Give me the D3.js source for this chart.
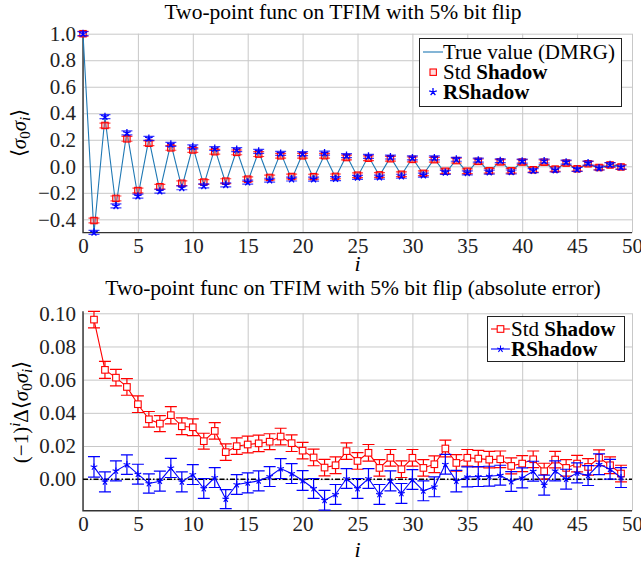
<!DOCTYPE html>
<html>
<head>
<meta charset="utf-8">
<script src="https://cdn.jsdelivr.net/npm/d3@7"></script>
<style>
  body { margin: 0; background: #fff; }
  svg { display: block; }
  svg text { font-family: "Liberation Serif", "Times New Roman", serif; }
</style>
</head>
<body>
<svg id="chart" width="641" height="561"></svg>
<script>
// sites i = 0..49
const sites = d3.range(0, 50)
const errSites = d3.range(1, 50)

// top panel: <sigma_0 sigma_i>
const trueVal = [1.000, -0.505, 0.372, -0.303, 0.261, -0.228, 0.207, -0.187, 0.173, -0.160,
  0.150, -0.142, 0.135, -0.128, 0.123, -0.118, 0.112, -0.107, 0.103, -0.099,
  0.095, -0.091, 0.087, -0.084, 0.081, -0.078, 0.075, -0.072, 0.069, -0.066,
  0.063, -0.060, 0.058, -0.055, 0.052, -0.050, 0.048, -0.046, 0.044, -0.042,
  0.040, -0.038, 0.036, -0.033, 0.031, -0.028, 0.026, -0.022, 0.018, -0.008]
const stdVal = [1.000, -0.409, 0.308, -0.242, 0.207, -0.183, 0.174, -0.154, 0.139, -0.128,
  0.123, -0.119, 0.110, -0.112, 0.105, -0.097, 0.092, -0.084, 0.079, -0.077,
  0.079, -0.078, 0.080, -0.076, 0.066, -0.067, 0.061, -0.065, 0.057, -0.060,
  0.052, -0.053, 0.050, -0.037, 0.043, -0.037, 0.037, -0.034, 0.033, -0.034,
  0.032, -0.026, 0.031, -0.021, 0.024, -0.019, 0.019, -0.009, 0.010, -0.005]
const rsVal = [1.000, -0.498, 0.374, -0.298, 0.252, -0.225, 0.210, -0.188, 0.166, -0.162,
  0.147, -0.148, 0.134, -0.140, 0.126, -0.120, 0.113, -0.105, 0.097, -0.096,
  0.096, -0.097, 0.100, -0.093, 0.081, -0.084, 0.075, -0.081, 0.070, -0.075,
  0.063, -0.067, 0.063, -0.046, 0.053, -0.049, 0.046, -0.044, 0.042, -0.043,
  0.039, -0.033, 0.040, -0.028, 0.031, -0.024, 0.024, -0.013, 0.012, -0.007]
const stdBarTop = [0.018, 0.018, 0.018, 0.018, 0.018, 0.018, 0.018, 0.018, 0.018, 0.018,
  0.018, 0.018, 0.018, 0.018, 0.018, 0.018, 0.018, 0.018, 0.018, 0.018,
  0.018, 0.018, 0.018, 0.018, 0.018, 0.018, 0.018, 0.018, 0.018, 0.018,
  0.018, 0.018, 0.018, 0.018, 0.018, 0.018, 0.018, 0.018, 0.018, 0.018,
  0.018, 0.018, 0.018, 0.018, 0.018, 0.018, 0.018, 0.018, 0.018, 0.018]
const rsBarTop = [0.015, 0.015, 0.015, 0.015, 0.015, 0.015, 0.015, 0.015, 0.015, 0.015,
  0.015, 0.015, 0.015, 0.015, 0.015, 0.015, 0.015, 0.015, 0.015, 0.015,
  0.015, 0.015, 0.015, 0.015, 0.015, 0.015, 0.015, 0.015, 0.015, 0.015,
  0.015, 0.015, 0.015, 0.015, 0.015, 0.015, 0.015, 0.015, 0.015, 0.015,
  0.015, 0.015, 0.015, 0.015, 0.015, 0.015, 0.015, 0.015, 0.015, 0.015]

// bottom panel: (-1)^i * error, i = 1..49
const stdAbsErr = [0.0962, 0.0659, 0.0612, 0.0556, 0.0452, 0.0361, 0.0335, 0.0386, 0.0319, 0.0313,
  0.0229, 0.0291, 0.0163, 0.0199, 0.0209, 0.0216, 0.0226, 0.0257, 0.0217, 0.0172,
  0.0131, 0.0070, 0.0084, 0.0169, 0.0110, 0.0159, 0.0068, 0.0129, 0.0060, 0.0129,
  0.0068, 0.0090, 0.0185, 0.0098, 0.0129, 0.0124, 0.0118, 0.0120, 0.0080, 0.0094,
  0.0120, 0.0048, 0.0118, 0.0068, 0.0094, 0.0074, 0.0129, 0.0084, 0.0034]
const rsAbsErr = [0.0074, -0.0016, 0.0050, 0.0088, 0.0030, -0.0026, -0.0012, 0.0068, -0.0016, 0.0028,
  -0.0056, 0.0010, -0.0120, -0.0032, -0.0022, -0.0010, 0.0016, 0.0064, 0.0034, -0.0008,
  -0.0056, -0.0127, -0.0092, 0.0004, -0.0056, 0.0004, -0.0092, -0.0010, -0.0086, -0.0002,
  -0.0070, -0.0046, 0.0090, -0.0012, 0.0014, 0.0016, 0.0018, 0.0024, -0.0014, 0.0008,
  0.0048, -0.0036, 0.0050, 0.0000, 0.0038, 0.0022, 0.0090, 0.0060, 0.0010]
const stdAbsBar = [0.0050, 0.0051, 0.0050, 0.0050, 0.0050, 0.0047, 0.0048, 0.0052, 0.0050, 0.0050,
  0.0048, 0.0050, 0.0050, 0.0050, 0.0050, 0.0050, 0.0048, 0.0050, 0.0050, 0.0050,
  0.0050, 0.0050, 0.0050, 0.0050, 0.0050, 0.0050, 0.0050, 0.0050, 0.0050, 0.0050,
  0.0050, 0.0050, 0.0050, 0.0050, 0.0050, 0.0050, 0.0050, 0.0050, 0.0048, 0.0048,
  0.0050, 0.0048, 0.0050, 0.0050, 0.0050, 0.0050, 0.0048, 0.0050, 0.0050]
const rsAbsBar = [0.0062, 0.0060, 0.0060, 0.0059, 0.0060, 0.0058, 0.0060, 0.0058, 0.0060, 0.0060,
  0.0060, 0.0060, 0.0057, 0.0060, 0.0060, 0.0060, 0.0060, 0.0060, 0.0060, 0.0060,
  0.0060, 0.0060, 0.0060, 0.0060, 0.0060, 0.0060, 0.0060, 0.0060, 0.0060, 0.0060,
  0.0060, 0.0060, 0.0060, 0.0065, 0.0060, 0.0060, 0.0060, 0.0060, 0.0060, 0.0060,
  0.0060, 0.0060, 0.0060, 0.0060, 0.0060, 0.0060, 0.0062, 0.0060, 0.0060]

const xTicks = [0, 5, 10, 15, 20, 25, 30, 35, 40, 45, 50]
const yTicksTop = [-0.4, -0.2, 0.0, 0.2, 0.4, 0.6, 0.8, 1.0]
const yTicksBot = [0.00, 0.02, 0.04, 0.06, 0.08, 0.10]

const RED = '#ff0000', BLUE = '#0000ff', LINE = '#1f78b4'
const FS = 21
const svg = d3.select('#chart')

const x = d3.scaleLinear().domain([0, 50]).range([83, 632])
const yTop = d3.scaleLinear().domain([-0.5, 1.0]).range([232.6, 33.7])
const yBot = d3.scaleLinear().domain([-0.019, 0.1]).range([510.7, 313.3])

// 5-armed asterisk, like pgfplots "star"
function starPath(r) {
  let p = ''
  for (let k = 0; k < 5; k++) {
    const a = (-90 + 72 * k) * Math.PI / 180
    p += `M0,0L${(r * Math.cos(a)).toFixed(2)},${(r * Math.sin(a)).toFixed(2)}`
  }
  return p
}

function frame(y, yTicks, fmt, labelY) {
  const g = svg.append('g')
  const [y0, y1] = y.range()
  const [x0, x1] = x.range()
  // grid
  g.append('g').attr('transform', `translate(0,${y0})`)
    .call(d3.axisBottom(x).tickValues(xTicks).tickSize(-(y0 - y1)).tickFormat(''))
    .call(s => s.select('.domain').remove())
    .selectAll('line').attr('stroke', '#c8c8c8').attr('stroke-width', 1)
  g.append('g').attr('transform', `translate(${x0},0)`)
    .call(d3.axisLeft(y).tickValues(yTicks).tickSize(-(x1 - x0)).tickFormat(''))
    .call(s => s.select('.domain').remove())
    .selectAll('line').attr('stroke', '#c8c8c8').attr('stroke-width', 1)
  // tick labels
  g.append('g').attr('transform', `translate(0,${y0})`)
    .call(d3.axisBottom(x).tickValues(xTicks).tickSize(0).tickPadding(5).tickFormat(d3.format('d')))
    .call(s => s.select('.domain').remove())
    .selectAll('text').attr('font-size', FS).attr('fill', '#222')
  g.append('g').attr('transform', `translate(${x0},0)`)
    .call(d3.axisLeft(y).tickValues(yTicks).tickSize(0).tickPadding(7).tickFormat(d3.format(fmt)))
    .call(s => s.select('.domain').remove())
    .selectAll('text').attr('font-size', FS).attr('fill', '#222')
  // axis lines (left + bottom)
  g.append('path').attr('d', `M${x0},${y1 - 2}V${y0}H${x1}`)
    .attr('fill', 'none').attr('stroke', '#333').attr('stroke-width', 1.4)
  // x label
  g.append('text').attr('x', (x0 + x1) / 2).attr('y', labelY).attr('text-anchor', 'middle')
    .attr('font-size', 22).attr('font-style', 'italic').text('i')
  return g
}

// ---------------- top panel ----------------
frame(yTop, yTicksTop, '.1f', 271)
svg.append('text').attr('x', 343).attr('y', 19).attr('text-anchor', 'middle')
  .attr('font-size', 21.5).text('Two-point func on TFIM with 5% bit flip')

const ylabTop = svg.append('text').attr('transform', 'translate(26,133) rotate(-90)')
  .attr('text-anchor', 'middle').attr('font-size', FS)
ylabTop.append('tspan').text('⟨')
ylabTop.append('tspan').attr('font-style', 'italic').text('σ')
ylabTop.append('tspan').attr('font-size', 15).attr('dy', 4).text('0')
ylabTop.append('tspan').attr('font-style', 'italic').attr('dy', -4).text('σ')
ylabTop.append('tspan').attr('font-size', 15).attr('font-style', 'italic').attr('dy', 4).text('i')
ylabTop.append('tspan').attr('dy', -4).text('⟩')

const topG = svg.append('g')
topG.append('path').datum(sites)
  .attr('d', d3.line().x(i => x(i)).y(i => yTop(trueVal[i])))
  .attr('fill', 'none').attr('stroke', LINE).attr('stroke-width', 1.1)

function errBars(g, xs, vals, bars, y, color, cap, opacity) {
  const eb = g.append('g').attr('stroke', color).attr('stroke-width', 1.2).attr('stroke-opacity', opacity)
  xs.forEach((i, k) => {
    const cx = x(i), lo = y(vals[k] - bars[k]), hi = y(vals[k] + bars[k])
    eb.append('path').attr('d', `M${cx},${lo}V${hi}M${cx - cap},${lo}H${cx + cap}M${cx - cap},${hi}H${cx + cap}`)
  })
}

errBars(topG, sites, stdVal, stdBarTop, yTop, RED, 5.5, 0.75)
topG.append('g').selectAll('rect').data(sites).join('rect')
  .attr('x', i => x(i) - 3.2).attr('y', i => yTop(stdVal[i]) - 3.2)
  .attr('width', 6.4).attr('height', 6.4)
  .attr('fill', 'rgba(255,120,120,0.25)').attr('stroke', RED).attr('stroke-width', 1.1)
errBars(topG, sites, rsVal, rsBarTop, yTop, BLUE, 5.5, 0.75)
topG.append('g').selectAll('path').data(sites).join('path')
  .attr('transform', i => `translate(${x(i)},${yTop(rsVal[i])})`)
  .attr('d', starPath(4)).attr('fill', 'none').attr('stroke', BLUE).attr('stroke-width', 1.3)

// legend top
const lt = svg.append('g')
lt.append('rect').attr('x', 419.5).attr('y', 38.5).attr('width', 202).attr('height', 68)
  .attr('fill', '#fff').attr('stroke', '#222').attr('stroke-width', 1)
lt.append('line').attr('x1', 423).attr('x2', 443).attr('y1', 52).attr('y2', 52)
  .attr('stroke', LINE).attr('stroke-width', 1.1)
lt.append('rect').attr('x', 430).attr('y', 69).attr('width', 6.4).attr('height', 6.4)
  .attr('fill', 'rgba(255,120,120,0.25)').attr('stroke', RED).attr('stroke-width', 1.1)
lt.append('path').attr('transform', 'translate(433,92)').attr('d', starPath(4))
  .attr('fill', 'none').attr('stroke', BLUE).attr('stroke-width', 1.3)
lt.append('text').attr('x', 443).attr('y', 59).attr('font-size', FS).text('True value (DMRG)')
const l2 = lt.append('text').attr('x', 443).attr('y', 79).attr('font-size', FS)
l2.append('tspan').text('Std ')
l2.append('tspan').attr('font-weight', 'bold').text('Shadow')
lt.append('text').attr('x', 443).attr('y', 99).attr('font-size', FS).attr('font-weight', 'bold').text('RShadow')

// ---------------- bottom panel ----------------
frame(yBot, yTicksBot, '.2f', 557)
svg.append('text').attr('x', 353).attr('y', 295).attr('text-anchor', 'middle')
  .attr('font-size', 21.5).text('Two-point func on TFIM with 5% bit flip (absolute error)')

const ylabBot = svg.append('text').attr('transform', 'translate(28,412) rotate(-90)')
  .attr('text-anchor', 'middle').attr('font-size', FS)
ylabBot.append('tspan').text('(−1)')
ylabBot.append('tspan').attr('font-size', 15).attr('font-style', 'italic').attr('dy', -8).text('i')
ylabBot.append('tspan').attr('dy', 8).text('Δ⟨')
ylabBot.append('tspan').attr('font-style', 'italic').text('σ')
ylabBot.append('tspan').attr('font-size', 15).attr('dy', 4).text('0')
ylabBot.append('tspan').attr('font-style', 'italic').attr('dy', -4).text('σ')
ylabBot.append('tspan').attr('font-size', 15).attr('font-style', 'italic').attr('dy', 4).text('i')
ylabBot.append('tspan').attr('dy', -4).text('⟩')

const botG = svg.append('g')
// zero reference line
botG.append('line').attr('x1', x(0)).attr('x2', x(50)).attr('y1', yBot(0)).attr('y2', yBot(0))
  .attr('stroke', '#000').attr('stroke-width', 1.6).attr('stroke-dasharray', '5,2,1.5,2')

errBars(botG, errSites, stdAbsErr, stdAbsBar, yBot, RED, 6, 1)
botG.append('path').datum(errSites)
  .attr('d', d3.line().x(i => x(i)).y((i, k) => yBot(stdAbsErr[k])))
  .attr('fill', 'none').attr('stroke', RED).attr('stroke-width', 1.1)
botG.append('g').selectAll('rect').data(errSites).join('rect')
  .attr('x', i => x(i) - 3.3).attr('y', (i, k) => yBot(stdAbsErr[k]) - 3.3)
  .attr('width', 6.6).attr('height', 6.6)
  .attr('fill', '#fff').attr('stroke', RED).attr('stroke-width', 1.1)

errBars(botG, errSites, rsAbsErr, rsAbsBar, yBot, BLUE, 6, 1)
botG.append('path').datum(errSites)
  .attr('d', d3.line().x(i => x(i)).y((i, k) => yBot(rsAbsErr[k])))
  .attr('fill', 'none').attr('stroke', BLUE).attr('stroke-width', 1.1)
botG.append('g').selectAll('path.star').data(errSites).join('path')
  .attr('transform', (i, k) => `translate(${x(i)},${yBot(rsAbsErr[k])})`)
  .attr('d', starPath(3.5)).attr('fill', 'none').attr('stroke', BLUE).attr('stroke-width', 1.1)

// legend bottom
const lb = svg.append('g')
lb.append('rect').attr('x', 487.5).attr('y', 316.5).attr('width', 137).attr('height', 45)
  .attr('fill', '#fff').attr('stroke', '#222').attr('stroke-width', 1)
lb.append('line').attr('x1', 491).attr('x2', 510).attr('y1', 329).attr('y2', 329)
  .attr('stroke', RED).attr('stroke-width', 1.1)
lb.append('rect').attr('x', 497.2).attr('y', 325.7).attr('width', 6.6).attr('height', 6.6)
  .attr('fill', '#fff').attr('stroke', RED).attr('stroke-width', 1.1)
lb.append('line').attr('x1', 491).attr('x2', 510).attr('y1', 349).attr('y2', 349)
  .attr('stroke', BLUE).attr('stroke-width', 1.1)
lb.append('path').attr('transform', 'translate(500.5,349)').attr('d', starPath(3.5))
  .attr('fill', 'none').attr('stroke', BLUE).attr('stroke-width', 1.1)
const b1 = lb.append('text').attr('x', 511).attr('y', 336).attr('font-size', FS)
b1.append('tspan').text('Std ')
b1.append('tspan').attr('font-weight', 'bold').text('Shadow')
lb.append('text').attr('x', 511).attr('y', 356).attr('font-size', FS).attr('font-weight', 'bold').text('RShadow')
</script>
</body>
</html>
